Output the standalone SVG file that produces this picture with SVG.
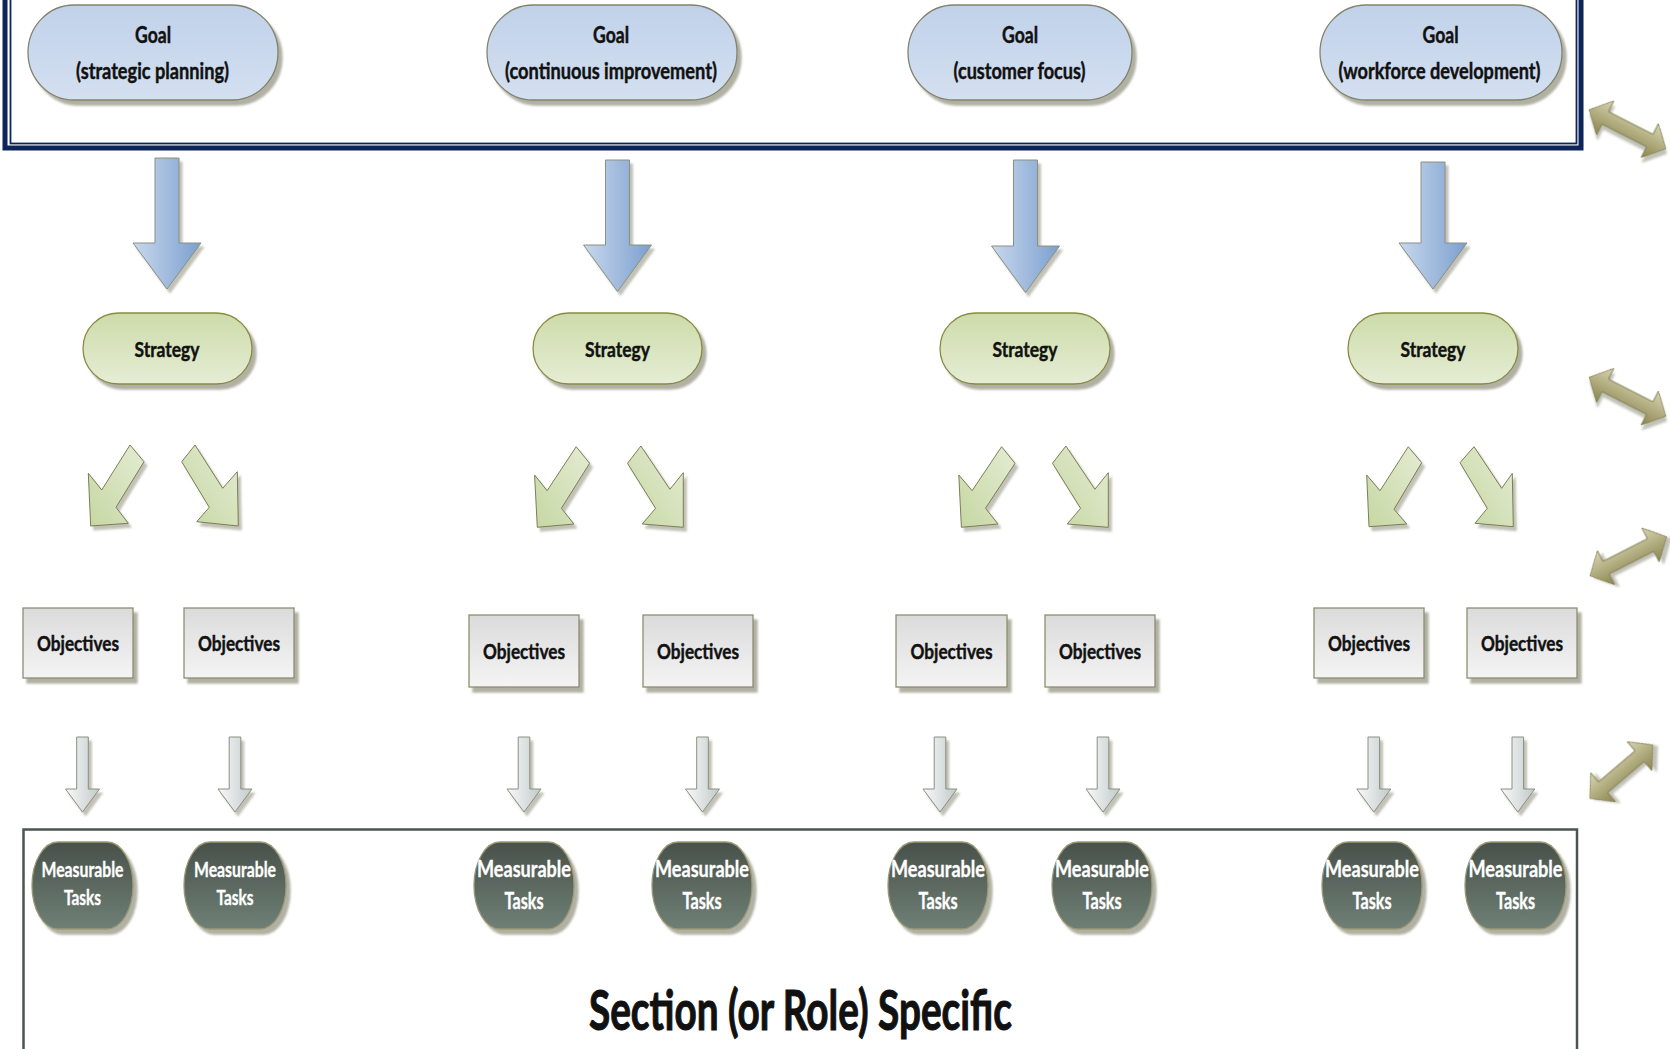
<svg xmlns="http://www.w3.org/2000/svg" width="1670" height="1049" viewBox="0 0 1670 1049">
<defs>
<style>
.t{font-family:Lato,"Liberation Sans",Arial,sans-serif;font-weight:bold;fill:#111;stroke:#111;stroke-width:0.45;text-anchor:middle}
.tw{fill:#fff;stroke:#fff;stroke-width:0.35}
.big{stroke-width:1.1}
.goal{fill:url(#gBlue);stroke:#82836e;stroke-width:1.3;filter:url(#sh)}
.strat{fill:url(#gGreen);stroke:#8b8a42;stroke-width:1.3;filter:url(#sh)}
.obj{fill:url(#gGray);stroke:#8e8e74;stroke-width:1.3;filter:url(#sh)}
.task{fill:url(#gDark);stroke:#9a9874;stroke-width:1.3;filter:url(#sh)}
.ab{fill:url(#aBlue);stroke:#8a9080;stroke-width:1;filter:url(#sh2)}
.ag{fill:url(#aGreen);stroke:#7d7d55;stroke-width:1;filter:url(#sh2)}
.ay{fill:url(#aGray);stroke:#8a8f80;stroke-width:1;filter:url(#sh2)}
.ao{fill:url(#aOlive);stroke:#86825a;stroke-width:1;filter:url(#sh2)}
</style>
<linearGradient id="gBlue" x1="0" y1="0" x2="0" y2="1"><stop offset="0" stop-color="#c0d1e9"/><stop offset="1" stop-color="#d4e0f1"/></linearGradient>
<linearGradient id="gGreen" x1="0" y1="0" x2="0" y2="1"><stop offset="0" stop-color="#cddba9"/><stop offset="1" stop-color="#e5edd5"/></linearGradient>
<linearGradient id="gGray" x1="0" y1="0" x2="0" y2="1"><stop offset="0" stop-color="#dbdbdb"/><stop offset="1" stop-color="#f4f4f4"/></linearGradient>
<linearGradient id="gDark" x1="0" y1="0" x2="0" y2="1"><stop offset="0" stop-color="#48514a"/><stop offset="1" stop-color="#6f8076"/></linearGradient>
<linearGradient id="aBlue" x1="0" y1="0" x2="1" y2="0"><stop offset="0" stop-color="#c8d8ee"/><stop offset="1" stop-color="#7c9fce"/></linearGradient>
<linearGradient id="aGreen" x1="0" y1="1" x2="1" y2="0"><stop offset="0" stop-color="#c6d7a2"/><stop offset="1" stop-color="#e4ecd4"/></linearGradient>
<linearGradient id="aGray" x1="0" y1="0" x2="1" y2="0"><stop offset="0" stop-color="#f8f9f9"/><stop offset="1" stop-color="#c2caca"/></linearGradient>
<linearGradient id="aOlive" x1="0" y1="0" x2="0" y2="1"><stop offset="0" stop-color="#d9d5b2"/><stop offset="1" stop-color="#8a854e"/></linearGradient>
<filter id="sh" x="-20%" y="-20%" width="150%" height="150%"><feDropShadow dx="4" dy="5" stdDeviation="1.2" flood-color="#8f8f7c" flood-opacity="0.7"/></filter>
<filter id="sh2" x="-30%" y="-30%" width="170%" height="170%"><feDropShadow dx="3" dy="4" stdDeviation="1.2" flood-color="#8f8f7c" flood-opacity="0.55"/></filter>
<polygon id="dbl" points="-43,0 -25,-19 -25,-7 25,-7 25,-19 43,0 25,19 25,7 -25,7 -25,19"/>
</defs>
<rect width="1670" height="1049" fill="#fff"/>

<g id="frames" fill="none">
<rect x="5" y="-20" width="1576" height="168" stroke="#0d2559" stroke-width="5"/>
<rect x="10.5" y="-20" width="1566" height="163.5" stroke="#0d2559" stroke-width="1.8"/>
<rect x="23.5" y="829.5" width="1553.5" height="240" stroke="#4a5650" stroke-width="2.5"/>
</g>

<g id="goal1"><rect class="goal" x="28" y="5" width="250" height="95" rx="46" ry="47.5"/>
<text class="t" x="153" y="43" font-size="22" textLength="36" lengthAdjust="spacingAndGlyphs">Goal</text>
<text class="t" x="152.5" y="79" font-size="22" textLength="153" lengthAdjust="spacingAndGlyphs">(strategic planning)</text></g>
<g id="goal2"><rect class="goal" x="487" y="5" width="250" height="95" rx="46" ry="47.5"/>
<text class="t" x="611" y="43" font-size="22" textLength="36" lengthAdjust="spacingAndGlyphs">Goal</text>
<text class="t" x="611" y="79" font-size="22" textLength="212" lengthAdjust="spacingAndGlyphs">(continuous improvement)</text></g>
<g id="goal3"><rect class="goal" x="908" y="5" width="224" height="95" rx="46" ry="47.5"/>
<text class="t" x="1020" y="43" font-size="22" textLength="36" lengthAdjust="spacingAndGlyphs">Goal</text>
<text class="t" x="1019.5" y="79" font-size="22" textLength="132" lengthAdjust="spacingAndGlyphs">(customer focus)</text></g>
<g id="goal4"><rect class="goal" x="1320" y="5" width="242" height="95" rx="46" ry="47.5"/>
<text class="t" x="1440.5" y="43" font-size="22" textLength="36" lengthAdjust="spacingAndGlyphs">Goal</text>
<text class="t" x="1439.5" y="79" font-size="22" textLength="202" lengthAdjust="spacingAndGlyphs">(workforce development)</text></g>

<g id="strategy1"><rect class="strat" x="83" y="313" width="169" height="71" rx="35.5"/>
<text class="t" x="167" y="357" font-size="21" textLength="65" lengthAdjust="spacingAndGlyphs">Strategy</text></g>
<g id="strategy2"><rect class="strat" x="533" y="313" width="169" height="71" rx="35.5"/>
<text class="t" x="617.5" y="357" font-size="21" textLength="65" lengthAdjust="spacingAndGlyphs">Strategy</text></g>
<g id="strategy3"><rect class="strat" x="940" y="313" width="170" height="71" rx="35.5"/>
<text class="t" x="1025" y="357" font-size="21" textLength="65" lengthAdjust="spacingAndGlyphs">Strategy</text></g>
<g id="strategy4"><rect class="strat" x="1348" y="313" width="170" height="71" rx="35.5"/>
<text class="t" x="1433" y="357" font-size="21" textLength="65" lengthAdjust="spacingAndGlyphs">Strategy</text></g>

<g id="obj1a"><rect class="obj" x="23" y="608" width="110" height="70"/><text class="t" x="78" y="651" font-size="21" textLength="82" lengthAdjust="spacingAndGlyphs">Objectives</text></g>
<g id="obj1b"><rect class="obj" x="184" y="608" width="110" height="70"/><text class="t" x="239" y="651" font-size="21" textLength="82" lengthAdjust="spacingAndGlyphs">Objectives</text></g>
<g id="obj2a"><rect class="obj" x="469" y="615" width="110" height="72"/><text class="t" x="524" y="659" font-size="21" textLength="82" lengthAdjust="spacingAndGlyphs">Objectives</text></g>
<g id="obj2b"><rect class="obj" x="643" y="615" width="110" height="72"/><text class="t" x="698" y="659" font-size="21" textLength="82" lengthAdjust="spacingAndGlyphs">Objectives</text></g>
<g id="obj3a"><rect class="obj" x="896" y="615" width="111" height="72"/><text class="t" x="951.5" y="659" font-size="21" textLength="82" lengthAdjust="spacingAndGlyphs">Objectives</text></g>
<g id="obj3b"><rect class="obj" x="1045" y="615" width="110" height="72"/><text class="t" x="1100" y="659" font-size="21" textLength="82" lengthAdjust="spacingAndGlyphs">Objectives</text></g>
<g id="obj4a"><rect class="obj" x="1314" y="608" width="110" height="70"/><text class="t" x="1369" y="651" font-size="21" textLength="82" lengthAdjust="spacingAndGlyphs">Objectives</text></g>
<g id="obj4b"><rect class="obj" x="1467" y="608" width="110" height="70"/><text class="t" x="1522" y="651" font-size="21" textLength="82" lengthAdjust="spacingAndGlyphs">Objectives</text></g>

<g id="task1a"><rect class="task" x="32" y="842" width="101" height="87" rx="26" ry="43.5"/><text class="t tw" x="82.5" y="877" font-size="21" textLength="82" lengthAdjust="spacingAndGlyphs">Measurable</text><text class="t tw" x="82.5" y="905" font-size="21" textLength="37" lengthAdjust="spacingAndGlyphs">Tasks</text></g>
<g id="task1b"><rect class="task" x="184" y="842" width="102" height="87" rx="26" ry="43.5"/><text class="t tw" x="235" y="877" font-size="21" textLength="82" lengthAdjust="spacingAndGlyphs">Measurable</text><text class="t tw" x="235" y="905" font-size="21" textLength="37" lengthAdjust="spacingAndGlyphs">Tasks</text></g>
<g id="task2a"><rect class="task" x="474" y="842" width="100" height="87" rx="26" ry="43.5"/><text class="t tw" x="524" y="877" font-size="22" textLength="94" lengthAdjust="spacingAndGlyphs">Measurable</text><text class="t tw" x="524" y="909" font-size="22" textLength="39" lengthAdjust="spacingAndGlyphs">Tasks</text></g>
<g id="task2b"><rect class="task" x="652" y="842" width="100" height="87" rx="26" ry="43.5"/><text class="t tw" x="702" y="877" font-size="22" textLength="94" lengthAdjust="spacingAndGlyphs">Measurable</text><text class="t tw" x="702" y="909" font-size="22" textLength="39" lengthAdjust="spacingAndGlyphs">Tasks</text></g>
<g id="task3a"><rect class="task" x="888" y="842" width="100" height="87" rx="26" ry="43.5"/><text class="t tw" x="938" y="877" font-size="22" textLength="94" lengthAdjust="spacingAndGlyphs">Measurable</text><text class="t tw" x="938" y="909" font-size="22" textLength="39" lengthAdjust="spacingAndGlyphs">Tasks</text></g>
<g id="task3b"><rect class="task" x="1052" y="842" width="100" height="87" rx="26" ry="43.5"/><text class="t tw" x="1102" y="877" font-size="22" textLength="94" lengthAdjust="spacingAndGlyphs">Measurable</text><text class="t tw" x="1102" y="909" font-size="22" textLength="39" lengthAdjust="spacingAndGlyphs">Tasks</text></g>
<g id="task4a"><rect class="task" x="1322" y="842" width="100" height="87" rx="26" ry="43.5"/><text class="t tw" x="1372" y="877" font-size="22" textLength="94" lengthAdjust="spacingAndGlyphs">Measurable</text><text class="t tw" x="1372" y="909" font-size="22" textLength="39" lengthAdjust="spacingAndGlyphs">Tasks</text></g>
<g id="task4b"><rect class="task" x="1465" y="842" width="101" height="87" rx="26" ry="43.5"/><text class="t tw" x="1515.5" y="877" font-size="22" textLength="94" lengthAdjust="spacingAndGlyphs">Measurable</text><text class="t tw" x="1515.5" y="909" font-size="22" textLength="39" lengthAdjust="spacingAndGlyphs">Tasks</text></g>

<g id="section"><text class="t big" x="800.5" y="1030" font-size="56" textLength="423" lengthAdjust="spacingAndGlyphs">Section (or Role) Specific</text></g>

<g id="connectors">
<polygon class="ab" points="155,158 179,158 179,243 201,243 167,289 133,243 155,243"/>
<polygon class="ab" points="605.5,160 629.5,160 629.5,245 651.5,245 617.5,291.5 583.5,245 605.5,245"/>
<polygon class="ab" points="1013.5,160 1037.5,160 1037.5,246 1059.5,246 1025.5,292.5 991.5,246 1013.5,246"/>
<polygon class="ab" points="1421,162 1445,162 1445,243 1467,243 1433,289 1399,243 1421,243"/>

<polygon class="ag" points="130,445 144,461.7 116,507.3 128.3,523.3 90.7,526 88.3,473.3 101.7,490"/>
<polygon class="ag" points="195,445 181.7,461.7 209.3,507.3 196.7,521.7 238.3,526 237.3,471.7 222.7,488.3"/>
<polygon class="ag" points="576.2,446.7 589.6,463.3 561.4,508.3 573.9,524 537.3,527.3 534.6,475 547.1,490.7"/>
<polygon class="ag" points="640.9,446 627.5,463.3 655.6,508.3 642.2,524 683.3,527.3 683.3,472.7 669.9,489.3"/>
<polygon class="ag" points="1001.6,446.7 1015,463.3 985.5,508.3 998,524 961.4,527.3 958.8,475 972.1,490.7"/>
<polygon class="ag" points="1065.9,446 1052.5,463.3 1080.6,508.3 1067.2,524 1108.3,527.3 1108.3,472.7 1094.9,489.3"/>
<polygon class="ag" points="1408.3,446.7 1421.7,462.7 1394,509.3 1406.7,524 1369,526.7 1366.7,475 1380,490.7"/>
<polygon class="ag" points="1474,446.7 1460,462.7 1487.3,508.3 1475,523.3 1513.3,526.7 1512.3,473.3 1501.7,488.3"/>

<polygon class="ay" points="76.7,737 88.3,737 88.3,789 99.5,789 82.5,812 65.5,789 76.7,789"/>
<polygon class="ay" points="229.2,737 240.8,737 240.8,789 252,789 235,812 218,789 229.2,789"/>
<polygon class="ay" points="518.2,737 529.8,737 529.8,789 541,789 524,812 507,789 518.2,789"/>
<polygon class="ay" points="696.7,737 708.3,737 708.3,789 719.5,789 702.5,812 685.5,789 696.7,789"/>
<polygon class="ay" points="934.2,737 945.8,737 945.8,789 957,789 940,812 923,789 934.2,789"/>
<polygon class="ay" points="1097.2,737 1108.8,737 1108.8,789 1120,789 1103,812 1086,789 1097.2,789"/>
<polygon class="ay" points="1368,737 1379.6,737 1379.6,789 1390.8,789 1373.8,812 1356.8,789 1368,789"/>
<polygon class="ay" points="1512,737 1523.6,737 1523.6,789 1534.8,789 1517.8,812 1500.8,789 1512,789"/>

<use href="#dbl" class="ao" transform="translate(1627.5,129.2) rotate(27)"/>
<use href="#dbl" class="ao" transform="translate(1627.5,396.7) rotate(27)"/>
<use href="#dbl" class="ao" transform="translate(1628.3,556.3) rotate(-27)"/>
<use href="#dbl" class="ao" transform="translate(1621.3,771.7) rotate(-40.4) scale(0.96,1)"/>
</g>
</svg>
